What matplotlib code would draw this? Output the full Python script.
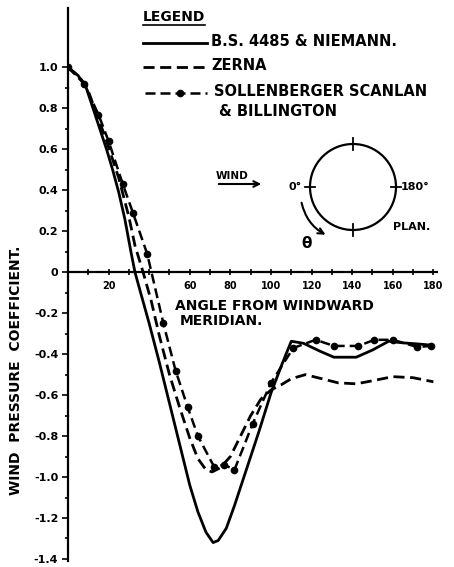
import matplotlib.pyplot as plt
from matplotlib.lines import Line2D
from matplotlib.patches import Circle, FancyArrowPatch
from matplotlib.ticker import FixedLocator

# B.S. 4485 & Niemann
bs_angle = [0, 5, 9, 12, 15, 19, 22, 25, 28, 31, 33, 35.5, 40, 45, 50, 55, 60,
            64, 68, 71.5, 74, 78, 82, 88, 94, 100, 105, 110, 116, 124, 131,
            142, 150, 158, 165, 172, 179]
bs_cp = [1.0, 0.96, 0.90, 0.81, 0.72, 0.60, 0.50, 0.39, 0.26, 0.10, 0.0,
         -0.09, -0.25, -0.44, -0.64, -0.84, -1.04, -1.17, -1.27, -1.32, -1.31,
         -1.25, -1.14, -0.96, -0.78, -0.59, -0.46, -0.337, -0.347, -0.385,
         -0.415, -0.415, -0.38, -0.337, -0.345, -0.35, -0.356]

# Zerna
zerna_angle = [0, 5, 9, 12, 15, 19, 22, 25, 30, 33, 37, 41, 45, 50, 55, 60, 64,
               68, 71, 75, 80, 85, 90, 95, 100, 105, 110, 117, 125, 133, 142,
               150, 160, 170, 180]
zerna_cp = [1.0, 0.96, 0.91, 0.83, 0.75, 0.64, 0.55, 0.46, 0.27, 0.13, 0.0,
            -0.14, -0.31, -0.50, -0.66, -0.81, -0.91, -0.965, -0.975, -0.955,
            -0.90, -0.80, -0.70, -0.62, -0.575, -0.55, -0.52, -0.50, -0.52,
            -0.54, -0.545, -0.53, -0.51, -0.515, -0.535]

# Sollenberger, Scanlan & Billington (measured points)
sollen_angle = [0, 8, 15, 20, 27, 32, 39, 47, 53, 59, 64, 72, 77, 82, 91, 100,
                111, 122, 131, 143, 151, 160, 172, 179]
sollen_cp = [1.0, 0.92, 0.77, 0.64, 0.43, 0.29, 0.09, -0.25, -0.48, -0.66,
             -0.80, -0.95, -0.94, -0.965, -0.74, -0.54, -0.37, -0.33, -0.36,
             -0.36, -0.33, -0.33, -0.365, -0.36]

x_major = [20, 40, 60, 80, 100, 120, 140, 160, 180]
x_labels = ["20", "", "60", "80", "100", "120", "140", "160", "180"]
y_major = [-1.4, -1.2, -1.0, -0.8, -0.6, -0.4, -0.2, 0.0, 0.2, 0.4, 0.6, 0.8, 1.0]
y_labels = ["-1.4", "-1.2", "-1.0", "-0.8", "-0.6", "-0.4", "-0.2", "0",
            "0.2", "0.4", "0.6", "0.8", "1.0"]

W, H = 454, 567
plt.rcParams["font.family"] = "DejaVu Sans"
plt.rcParams["font.weight"] = "bold"

fig = plt.figure(figsize=(W / 100, H / 100), dpi=100)
ax = fig.add_axes([68 / W, 6 / H, (437 - 68) / W, (561 - 8) / H])

solid = dict(color="black", lw=2.0)
dashed = dict(color="black", lw=2.0, ls=(0, (4, 2)))
dotted = dict(color="black", lw=1.8, ls=(0, (4, 2)), marker="o", ms=4.5)

ax.plot(bs_angle, bs_cp, **solid)
ax.plot(zerna_angle, zerna_cp, **dashed)
ax.plot(sollen_angle, sollen_cp, **dotted)

ax.set_xlim(0, 181.8)
ax.set_ylim(-1.41, 1.29)

for side in ("top", "right"):
    ax.spines[side].set_visible(False)
ax.spines["bottom"].set_position(("data", 0))
ax.spines["left"].set_linewidth(1.6)
ax.spines["bottom"].set_linewidth(1.6)

ax.xaxis.set_major_locator(FixedLocator(x_major))
ax.xaxis.set_minor_locator(FixedLocator(range(10, 190, 20)))
ax.set_xticklabels(x_labels)
ax.yaxis.set_major_locator(FixedLocator(y_major))
ax.yaxis.set_minor_locator(FixedLocator([v / 10 for v in range(-13, 10, 2)]))
ax.set_yticklabels(y_labels)

ax.tick_params(axis="x", which="both", direction="inout", length=4, width=1.2,
               pad=4, labelsize=7)
ax.tick_params(axis="y", which="major", direction="out", length=4, width=1.2,
               pad=3, labelsize=8)
ax.tick_params(axis="y", which="minor", direction="out", length=2.5, width=1.2)
for lab in ax.get_xticklabels() + ax.get_yticklabels():
    lab.set_fontweight("bold")

ax.set_facecolor("none")

# overlay in pixel units for legend and plan sketch
ov = fig.add_axes([0, 0, 1, 1], zorder=3)
ov.set_xlim(0, W)
ov.set_ylim(H, 0)
ov.axis("off")
ov.patch.set_alpha(0)

txt = dict(fontsize=10.5, fontweight="bold", ha="left", va="center")
ov.text(143, 17, "LEGEND", fontsize=10, fontweight="bold", ha="left", va="center")
ov.add_line(Line2D([143, 205], [25, 25], color="black", lw=1.2))
ov.add_line(Line2D([143, 207], [43, 43], **solid))
ov.add_line(Line2D([143, 207], [67, 67], **dashed))
ov.add_line(Line2D([145, 180, 207], [93, 93, 93], markevery=[1], **dotted))
ov.text(211, 42, "B.S. 4485 & NIEMANN.", **txt)
ov.text(211, 66, "ZERNA", **txt)
ov.text(214, 92, "SOLLENBERGER SCANLAN", **txt)
ov.text(219, 111, "& BILLINGTON", **txt)

# plan of the cylinder
cx, cy, r = 353, 187, 43
ov.add_patch(Circle((cx, cy), r, fill=False, lw=1.6, color="black"))
ov.add_line(Line2D([cx, cx], [cy - r - 6, cy - r + 6], color="black", lw=1.3))
ov.add_line(Line2D([cx, cx], [cy + r - 6, cy + r + 6], color="black", lw=1.3))
ov.add_line(Line2D([cx - r - 5, cx - r + 5], [cy, cy], color="black", lw=1.3))
ov.add_line(Line2D([cx + r - 5, cx + r + 5], [cy, cy], color="black", lw=1.3))
ov.text(302, cy, "0°", fontsize=8, fontweight="bold", ha="right", va="center")
ov.text(cx + r + 5, cy, "180°", fontsize=8, fontweight="bold", ha="left", va="center")
ov.text(393, 227, "PLAN.", fontsize=8, fontweight="bold", ha="left", va="center")
ov.text(216, 181, "WIND", fontsize=7.5, fontweight="bold", ha="left", va="bottom")
ov.add_patch(FancyArrowPatch((216, 184), (264, 184), arrowstyle="->",
                             mutation_scale=10, lw=1.5, color="black"))
ov.add_patch(FancyArrowPatch((301, 200), (328, 236), arrowstyle="->",
                             connectionstyle="arc3,rad=0.25",
                             mutation_scale=10, lw=1.5, color="black"))
ov.text(307, 244, "θ", fontsize=11, fontweight="bold", ha="center", va="center")

ov.text(175, 306, "ANGLE FROM WINDWARD", fontsize=10, fontweight="bold",
        ha="left", va="center")
ov.text(180, 321, "MERIDIAN.", fontsize=10, fontweight="bold",
        ha="left", va="center")

fig.text(16 / W, 1 - 370 / H, "WIND  PRESSURE  COEFFICIENT.", rotation=90,
         fontsize=10, fontweight="bold", ha="center", va="center")

fig.savefig("out.png", dpi=100)
